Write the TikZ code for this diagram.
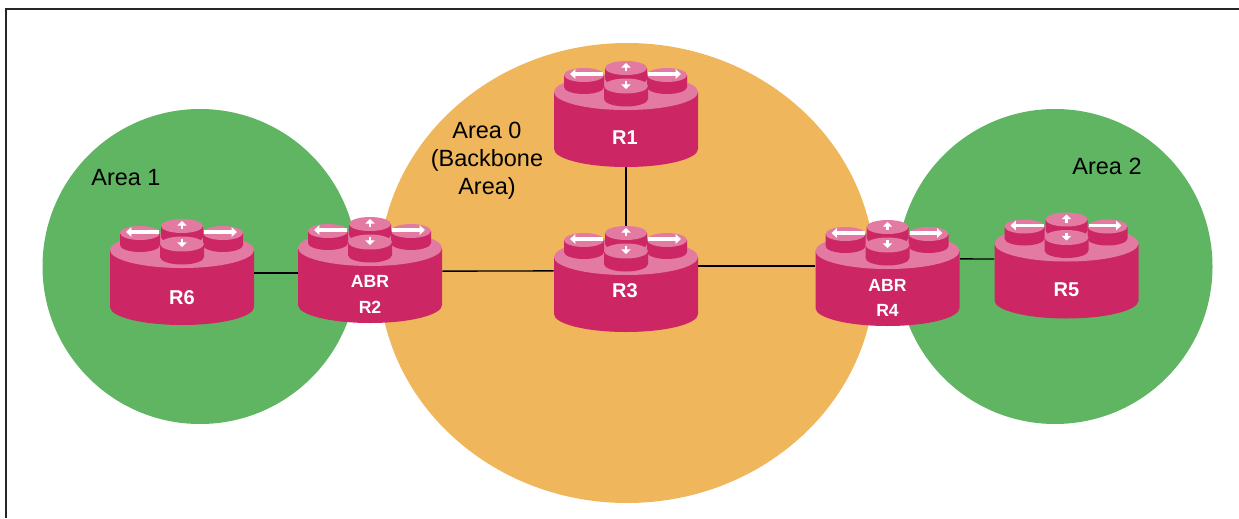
\documentclass[tikz,border=0pt]{standalone}
\usepackage{xcolor}
\usepackage{fontspec}
\setmainfont{Liberation Sans}
\usetikzlibrary{arrows.meta}

\definecolor{areagreen}{RGB}{96,181,99}
\definecolor{areaorange}{RGB}{239,182,91}
\definecolor{routerbody}{RGB}{204,39,100}
\definecolor{routertop}{RGB}{226,122,162}

\pgfdeclarelayer{back}
\pgfsetlayers{back,main}

\tikzset{
  areatext/.style={font=\fontsize{17.6}{21}\selectfont, align=center, text=black},
  routertext/.style={font=\fontsize{15}{18}\bfseries\selectfont, align=center, text=white, inner sep=0pt},
  abrtext/.style={routertext, font=\fontsize{13.2}{19}\bfseries\selectfont},
  routerbox/.style={inner sep=0pt, minimum width=108pt, minimum height=69.75pt},
  link/.style={draw=black, line width=1.1pt},
  sidearrow/.style={white, line width=2.8pt, -{Triangle[length=4pt,width=7pt]}},
  midarrow/.style={white, line width=2.2pt, -{Triangle[length=3.5pt,width=7pt]}},
}

% one small disc: x, y, half width, half height, thickness
\newcommand{\routerdisc}[5]{
\fill [routerbody] (#1-#3,#2) -- (#1-#3,#2+#5) arc (180:0:#3 and #4) -- (#1+#3,#2) -- cycle ;
\fill [routertop] (#1,#2) ellipse (#3 and #4) ;
}

% router with its box node: x, y of the top face, name
\newcommand{\routershape}[3]{
\fill [routerbody] (#1-72,#2) -- (#1-72,#2+57) arc (180:0:72 and 18) -- (#1+72,#2) -- cycle ;
\fill [routertop] (#1,#2) ellipse (72 and 18) ;
\routerdisc{#1-42}{#2-17}{20}{7}{12}
\routerdisc{#1+41}{#2-17}{20}{7}{12}
\routerdisc{#1}{#2-24}{21}{7}{11}
\routerdisc{#1}{#2-6}{22}{7.5}{13}
\draw [sidearrow] (#1-23,#2-18) -- (#1-56,#2-18) ;
\draw [sidearrow] (#1+22,#2-18) -- (#1+55,#2-18) ;
\draw [midarrow] (#1,#2-21) -- (#1,#2-29) ;
\draw [midarrow] (#1,#2-11) -- (#1,#2-3) ;
\node (#3) [routerbox] at (#1,#2+28.5) {};
}

\begin{document}
\begin{tikzpicture}[x=0.75pt,y=0.75pt,yscale=-1,xscale=1]
\useasboundingbox (0,0) rectangle (1239,518);

% Frame
\draw [line width=1.5pt, black!85] (5.5,518) -- (5.5,9) -- (1239,9) ;

% Router shapes
\routershape{182}{250}{r6}
\routershape{370}{248}{r2}
\routershape{626}{92}{r1}
\routershape{626}{257}{r3}
\routershape{887.5}{251}{r4}
\routershape{1066.5}{243.5}{r5}

% Areas and links
\begin{pgfonlayer}{back}
\fill [areagreen] (200,266.5) circle (157.5) ;
\fill [areagreen] (1055,266.5) circle (157.5) ;
\fill [areaorange] (627,273) ellipse (248 and 230) ;
\draw [link] (r1) -- (r3) ;
\draw [link] ([yshift=-4.1pt]r6.east) -- ([yshift=-2.6pt]r2.west) ;
\draw [link] ([yshift=-4.1pt]r2.east) -- ([yshift=-10.9pt]r3.west) ;
\draw [link] ([yshift=-14.6pt]r3.east) -- ([yshift=-10.1pt]r4.west) ;
\draw [link] ([yshift=-15.4pt]r4.east) -- ([yshift=-9.75pt]r5.west) ;
\end{pgfonlayer}

% Text Node
\node (area1) [areatext] at (126,178) {Area 1};
\node (area2) [areatext] at (1107,166) {Area 2};
\node (area0) [areatext] at (487,161) {Area 0\\(Backbone\\Area)};
\node (r6text) [routertext] at (182,298) {R6};
\node (r2text) [abrtext] at (370,294.5) {ABR\\R2};
\node (r1text) [routertext] at (625,138) {R1};
\node (r3text) [routertext] at (625,291) {R3};
\node (r4text) [abrtext] at (887.5,298) {ABR\\R4};
\node (r5text) [routertext] at (1066.5,290) {R5};

\end{tikzpicture}
\end{document}
